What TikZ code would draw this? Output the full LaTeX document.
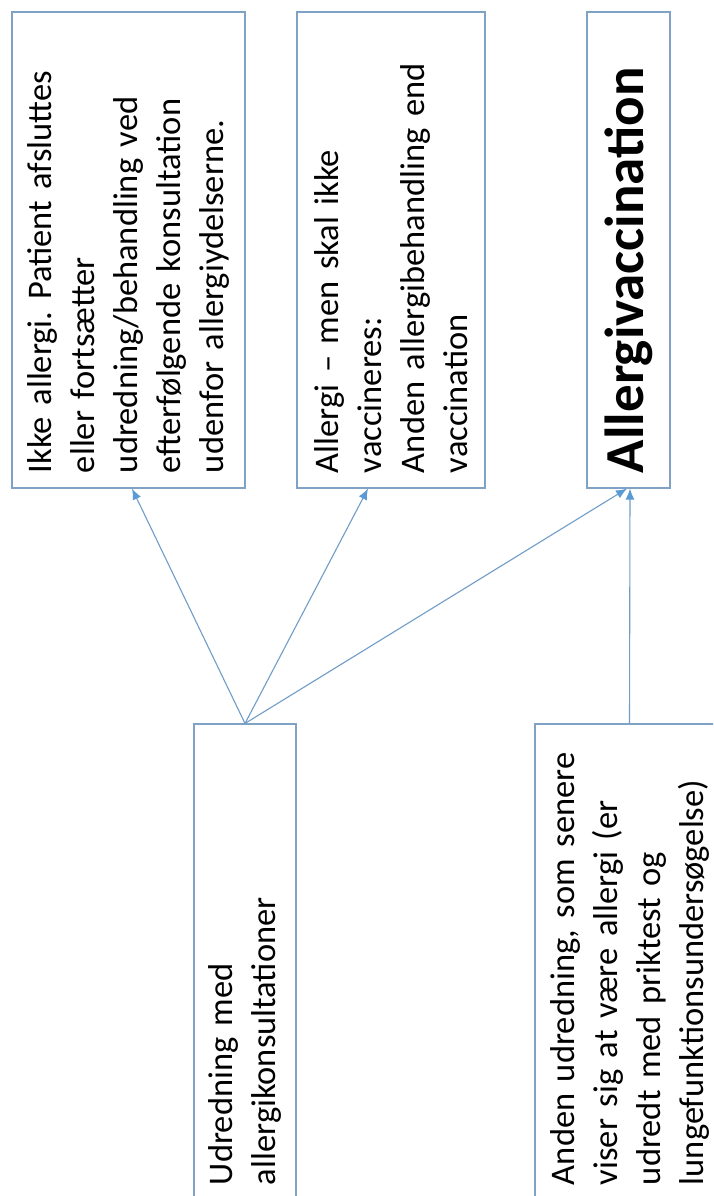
\documentclass[tikz,border=0pt]{standalone}
\usepackage{fontspec}
\setmainfont{Carlito}
\usetikzlibrary{arrows.meta,calc}
\definecolor{boxline}{RGB}{128,162,196}
\definecolor{arrline}{RGB}{112,156,200}
\definecolor{arrhead}{RGB}{91,155,213}
\newcommand{\myboxfont}{\fontsize{34.5}{43}\selectfont\frenchspacing}
\tikzset{
  rbox/.style={draw=boxline, line width=1.1pt, fill=white, rotate=90,
    minimum width=476pt, text width=446pt, inner xsep=15pt, inner ysep=0pt,
    align=left, font=\myboxfont, anchor=center},
  conn/.style={draw=arrline, line width=1.1pt,
    -{Latex[length=11pt,width=9pt,fill=arrhead,color=arrhead]}}
}
\begin{document}
\begin{tikzpicture}[x=1pt,y=-1pt]
\useasboundingbox (0,0) rectangle (713,1196);
\clip (0,0) rectangle (713,1196);
\fill[white] (0,0) rectangle (713,1196);
\node[rbox, minimum height=233pt] (b1) at (128.5,250)
  {Ikke allergi. Patient afsluttes\\eller fortsætter\\udredning/behandling ved\\efterfølgende konsultation\\udenfor allergiydelserne.};
\node[rbox, minimum height=188pt] (b2) at (391,250)
  {Allergi – men skal ikke\\vaccineres:\\Anden allergibehandling end\\vaccination};
\node[rbox, minimum height=83pt, font=\fontsize{55}{60}\selectfont\bfseries] (b3) at (628.5,250)
  {Allergivaccination};
\node[rbox, minimum height=102pt] (ud) at (245,962)
  {Udredning med\\allergikonsultationer};
\node[rbox, minimum height=189pt] (an) at (629.5,962)
  {Anden udredning, som senere\\viser sig at være allergi (er\\udredt med priktest og\\lungefunktionsundersøgelse)};
\draw[conn] (ud.east) -- ([xshift=3.5pt]b1.west);
\draw[conn] (ud.east) -- ([xshift=-23pt]b2.west);
\draw[conn] (ud.east) -- ([xshift=-1.5pt]b3.west);
\draw[conn] (an.east) -- ([xshift=0.5pt]an.east |- b3.west);
\end{tikzpicture}
\end{document}
